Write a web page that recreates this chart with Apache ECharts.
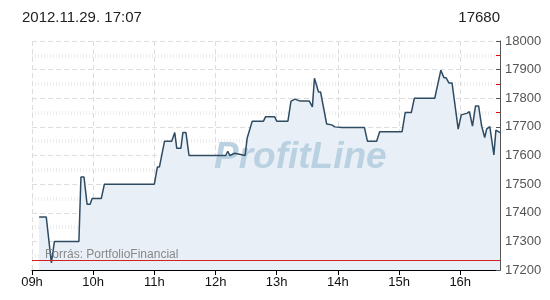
<!DOCTYPE html>
<html>
<head>
<meta charset="utf-8">
<script src="https://cdn.jsdelivr.net/npm/echarts@6/dist/echarts.min.js"></script>
<style>
  html, body { margin: 0; padding: 0; background: #fff; }
  #main { width: 550px; height: 300px; }
</style>
</head>
<body>
<div id="main"></div>
<script>
// trade times and prices
const times = [
  '09:07', '09:14', '09:19', '09:22', '09:46', '09:48', '09:51', '09:54', '09:57', '09:59',
  '10:08', '10:11', '11:00', '11:03', '11:05', '11:10', '11:17', '11:20', '11:22', '11:26',
  '11:28', '11:31', '11:34', '12:10', '12:12', '12:14', '12:19', '12:29', '12:31', '12:36',
  '12:47', '12:49', '12:58', '13:00', '13:11', '13:14', '13:18', '13:23', '13:32', '13:35',
  '13:37', '13:41', '13:43', '13:49', '13:54', '13:57', '14:04', '14:26', '14:29', '14:38',
  '14:41', '15:03', '15:06', '15:12', '15:15', '15:35', '15:41', '15:44', '15:46', '15:49',
  '15:52', '15:58', '16:01', '16:07', '16:09', '16:12', '16:15', '16:18', '16:21', '16:24',
  '16:26', '16:29', '16:33', '16:35', '16:39'
]
const prices = [
  17385, 17385, 17225, 17300, 17300, 17525, 17525, 17430, 17430, 17450,
  17450, 17500, 17500, 17560, 17560, 17650, 17650, 17680, 17625, 17625,
  17680, 17680, 17600, 17600, 17615, 17600, 17608, 17600, 17660, 17720,
  17720, 17735, 17735, 17720, 17720, 17790, 17797, 17790, 17790, 17770,
  17870, 17822, 17822, 17710, 17707, 17700, 17698, 17698, 17650, 17650,
  17683, 17683, 17750, 17750, 17800, 17800, 17898, 17872, 17872, 17853,
  17853, 17692, 17742, 17748, 17753, 17703, 17773, 17773, 17703, 17663,
  17693, 17701, 17602, 17689, 17680
]
const prevClose = 17235
const hourTicks = [0, 60, 120, 180, 240, 300, 360, 420]
const stamp = '2012.11.29. 17:07'
const lastPrice = '17680'

// minutes since 09:00
const toMin = t => {
  const [h, m] = t.split(':').map(Number)
  return (h - 9) * 60 + m
}
const points = times.map((t, i) => [toMin(t), prices[i]])

const chart = echarts.init(document.getElementById('main'))

chart.setOption({
  animation: false,
  backgroundColor: '#fff',
  textStyle: { fontFamily: 'Liberation Sans, Arial, sans-serif' },
  grid: { left: 32, right: 50, top: 41, bottom: 30 },
  xAxis: {
    type: 'value',
    min: 0,
    max: 459,
    interval: 60,
    axisLine: { onZero: false, lineStyle: { color: '#000', width: 1 } },
    axisTick: { length: 5, lineStyle: { color: '#000' }, customValues: hourTicks },
    axisLabel: {
      color: '#111', fontSize: 13, margin: 6,
      customValues: hourTicks,
      formatter: v => String(9 + Math.round(v / 60)).padStart(2, '0') + 'h'
    },
    splitLine: { show: true, lineStyle: { color: '#ddd', type: [5, 3] } }
  },
  yAxis: {
    type: 'value',
    position: 'right',
    min: 17200,
    max: 18000,
    interval: 100,
    axisLine: { show: true, onZero: false, lineStyle: { color: '#555' } },
    axisTick: { show: true, inside: true, length: 4, lineStyle: { color: '#555' } },
    minorTick: { show: true, splitNumber: 2, length: 4, lineStyle: { color: '#e00' } },
    axisLabel: { color: '#555', fontSize: 13, margin: 5, formatter: v => String(v) },
    splitLine: { show: true, lineStyle: { color: '#ddd', type: [5, 3] } },
    minorSplitLine: { show: true, lineStyle: { color: '#eee', width: 4, type: [1, 2] } }
  },
  graphic: [
    {
      type: 'text', left: 22, top: 10, z: 10,
      style: { text: stamp, fontSize: 15, fill: '#222', fontFamily: 'Liberation Sans, Arial' }
    },
    {
      type: 'text', right: 50, top: 10, z: 10,
      style: { text: lastPrice, fontSize: 15, fill: '#222', fontFamily: 'Liberation Sans, Arial' }
    },
    {
      type: 'text', left: 45, top: 249, z: 10,
      style: { text: 'Forrás: PortfolioFinancial', fontSize: 12, fill: '#888', fontFamily: 'Liberation Sans, Arial' }
    },
    {
      type: 'text', left: 214, top: 139, z: 2,
      style: {
        text: 'ProfitLine', fontSize: 37, fontWeight: 'bold', fontStyle: 'italic',
        fill: '#b9d1e1', fontFamily: 'Liberation Sans, Arial'
      }
    }
  ],
  series: [
    {
      // fill under the price line
      type: 'line',
      data: points,
      z: 1,
      symbol: 'none',
      lineStyle: { width: 0 },
      areaStyle: { color: '#e8eff7', opacity: 1, origin: 'start' },
      silent: true
    },
    {
      type: 'line',
      data: points,
      z: 3,
      symbol: 'none',
      lineStyle: { color: '#2f4b62', width: 1.5 },
      markLine: {
        silent: true,
        symbol: ['none', 'none'],
        label: { show: false },
        lineStyle: { color: '#d42020', width: 1, type: 'solid' },
        data: [{ yAxis: prevClose }]
      }
    }
  ]
})
</script>
</body>
</html>
